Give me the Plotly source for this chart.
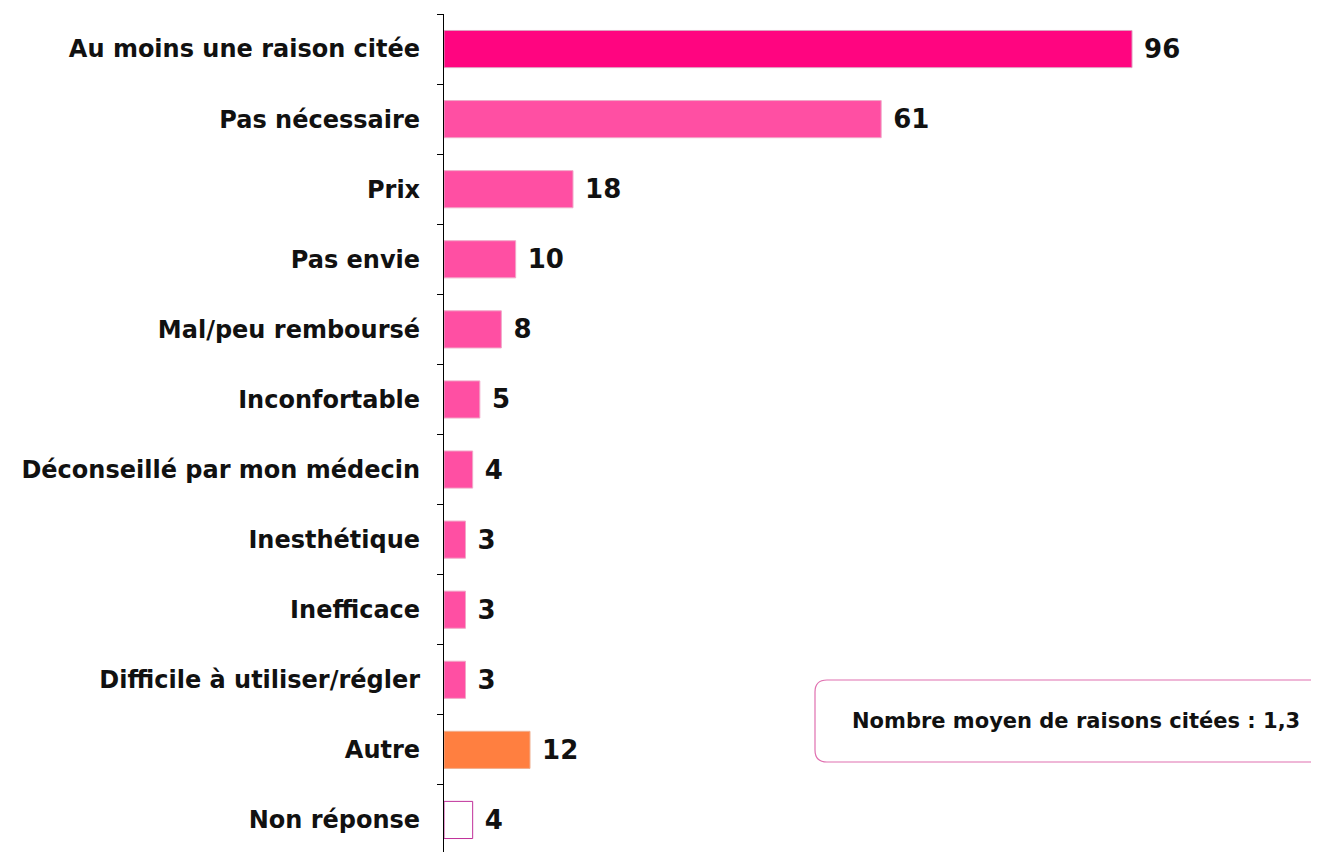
import plotly.graph_objects as go

categories = [
    "Au moins une raison citée",
    "Pas nécessaire",
    "Prix",
    "Pas envie",
    "Mal/peu remboursé",
    "Inconfortable",
    "Déconseillé par mon médecin",
    "Inesthétique",
    "Inefficace",
    "Difficile à utiliser/régler",
    "Autre",
    "Non réponse",
]
values = [96, 61, 18, 10, 8, 5, 4, 3, 3, 3, 12, 4]
value_labels = ["96", "61", "18", "10", "8", "5", "4", "3", "3", "3", "12", "4"]
bar_colors = ["#FF0580"] + ["#FF4FA3"] * 9 + ["#FF7F40", "#FFFFFF"]
line_colors = ["#E0A0C0"] + ["#F0A8C8"] * 9 + ["#F0B090", "#C0309A"]
box_text = "Nombre moyen de raisons citées : 1,3"

FONT = "DejaVu Sans, Liberation Sans, Arial"
OFF = 8  # page body margin
W, H = 1330, 852
ML, MT, MB, MR = 444 - OFF, 14 - OFF, 5, 0
pw, ph = W - ML - MR, H - MT - MB

def px_x(page_x):
    return (page_x - OFF - ML) / pw

def px_y(page_y):
    return (H - MB - (page_y - OFF)) / ph

fig = go.Figure()
fig.add_trace(go.Bar(
    y=categories,
    x=values,
    orientation="h",
    marker=dict(color=bar_colors, line=dict(color=line_colors, width=1)),
    text=[" " + t for t in value_labels],
    textposition="outside",
    textfont=dict(family=FONT, size=26, color="#111111", weight="bold"),
    cliponaxis=False,
    width=0.53,
    hoverinfo="skip",
))

# rounded box (paper coordinates)
x0 = px_x(815)
x1 = px_x(1345)
y1 = px_y(680)
y0 = px_y(762)
rx = 12 / pw
ry = 12 / ph
path = (
    f"M {x0+rx},{y1} L {x1-rx},{y1} Q {x1},{y1} {x1},{y1-ry} "
    f"L {x1},{y0+ry} Q {x1},{y0} {x1-rx},{y0} L {x0+rx},{y0} "
    f"Q {x0},{y0} {x0},{y0+ry} L {x0},{y1-ry} Q {x0},{y1} {x0+rx},{y1} Z"
)
fig.add_shape(type="path", path=path, xref="paper", yref="paper",
              line=dict(color="#E070B0", width=1.2), fillcolor="rgba(255,255,255,0)")
fig.add_annotation(
    x=px_x(1076), y=px_y(721), xref="paper", yref="paper",
    xanchor="center", yanchor="middle",
    text=box_text, showarrow=False,
    font=dict(family=FONT, size=21, color="#111111", weight="bold"),
)

fig.update_layout(
    width=W, height=H,
    margin=dict(l=ML, r=MR, t=MT, b=MB, pad=0),
    plot_bgcolor="white", paper_bgcolor="white",
    showlegend=False,
    xaxis=dict(range=[0, pw / 7.167], visible=False, fixedrange=True),
    yaxis=dict(
        autorange="reversed",
        showline=True, linecolor="#000000", linewidth=1.2,
        ticks="outside", ticklen=6, tickcolor="#000000",
        tickson="boundaries",
        ticklabelstandoff=18,
        tickfont=dict(family=FONT, size=24, color="#111111", weight="bold"),
        showgrid=False, zeroline=False,
    ),
)

fig.write_html("out.html")
